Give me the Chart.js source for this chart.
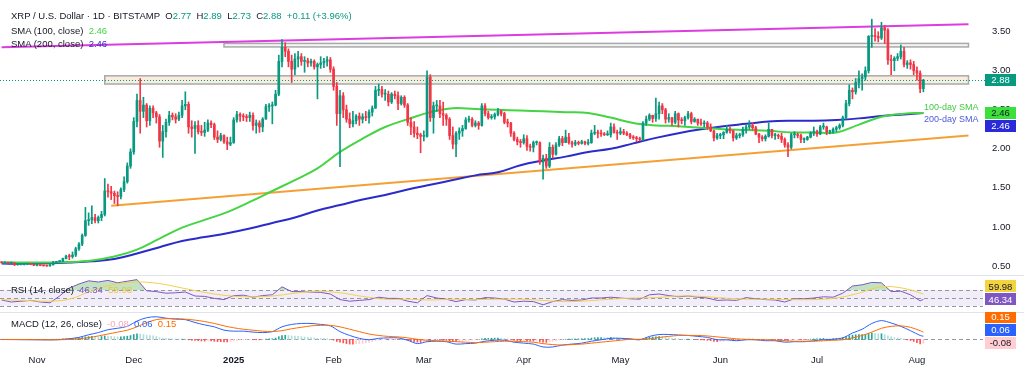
<!DOCTYPE html>
<html>
<head>
<meta charset="utf-8">
<script src="https://cdn.jsdelivr.net/npm/chart.js@4.4.1/dist/chart.umd.min.js"></script>
<style>
  body { margin: 0; background: #fff; }
  #wrap { position: relative; width: 1024px; height: 376px; overflow: hidden; background: #fff;
          font-family: 'Liberation Sans', Arial, sans-serif; color: #131722; }
  canvas { position: absolute; left: 0; }
  .sep { position: absolute; left: 0; width: 1024px; height: 1px; background: #e0e3eb; }
  .leg { position: absolute; left: 11px; font-size: 9.5px; line-height: 12px; white-space: nowrap; }
  .note { position: absolute; font-size: 9px; line-height: 11px; white-space: nowrap; }
</style>
</head>
<body>
<div id="wrap">
  <canvas id="price" width="1024" height="274" style="top:0"></canvas>
  <div class="sep" style="top:275px"></div>
  <canvas id="rsi" width="1024" height="36" style="top:276px"></canvas>
  <div class="sep" style="top:312px"></div>
  <canvas id="macd" width="1024" height="64" style="top:312px"></canvas>

  <div class="leg" id="leg1" style="top:10px"></div>
  <div class="leg" id="leg2" style="top:25px"></div>
  <div class="leg" id="leg3" style="top:38px"></div>
  <div class="leg" id="legRsi" style="top:284px"></div>
  <div class="leg" id="legMacd" style="top:318px"></div>
  <div class="note" style="left:924px;top:102px;color:#44c944">100-day SMA</div>
  <div class="note" style="left:924px;top:114px;color:#4b5bd6">200-day SMA</div>
</div>

<script>
// ---- data ----
const firstOpen = 0.549;
const changeAbs = 0.11, changePct = 3.96;
// daily candles, 2024-10-21 .. 2025-08-03
const closes = [
  0.541,0.545,0.538,0.540,0.515,0.517,0.520,0.522,0.523,0.521,0.508,
  0.510,0.505,0.503,0.500,0.515,0.545,0.555,0.560,0.595,0.625,0.620,0.640,0.720,0.780,0.890,1.080,1.090,1.120,1.080,1.120,1.160,1.460,1.450,1.430,1.400,1.390,1.480,1.580,1.780,1.960,
  2.35,2.62,2.48,2.56,2.36,2.52,2.46,2.41,2.10,2.22,2.34,2.43,2.41,2.38,2.43,2.55,2.57,2.28,2.26,2.30,2.22,2.21,2.24,2.33,2.31,2.15,2.12,2.17,2.09,2.06,2.08,
  2.37,2.44,2.42,2.41,2.40,2.43,2.30,2.33,2.28,2.38,2.54,2.55,2.56,2.70,3.12,3.30,3.25,3.12,3.02,3.15,3.18,3.12,3.13,3.10,3.12,3.05,3.08,3.10,3.12,3.14,3.02,
  2.80,2.45,2.68,2.50,2.38,2.32,2.36,2.42,2.38,2.41,2.40,2.47,2.52,2.75,2.76,2.70,2.70,2.60,2.70,2.68,2.58,2.66,2.56,2.34,2.28,2.20,2.18,2.16,
  2.16,2.92,2.40,2.55,2.55,2.45,2.43,2.38,2.17,2.06,2.20,2.23,2.26,2.37,2.38,2.30,2.33,2.30,2.55,2.45,2.40,2.41,2.44,2.48,2.45,2.34,2.33,2.20,2.12,2.09,2.08,
  2.13,2.03,2.02,2.08,2.08,1.83,1.88,1.78,2.02,1.93,2.05,2.13,2.08,2.15,2.08,2.06,2.08,2.07,2.09,2.07,2.08,2.20,2.21,2.20,2.19,2.18,2.18,2.28,2.21,2.20,
  2.22,2.20,2.18,2.15,2.14,2.13,2.12,2.33,2.38,2.43,2.39,2.45,2.55,2.50,2.38,2.40,2.34,2.45,2.37,2.36,2.40,2.45,2.35,2.38,2.33,2.32,2.33,2.28,2.23,2.14,2.17,
  2.18,2.21,2.25,2.23,2.14,2.17,2.18,2.25,2.28,2.30,2.27,2.19,2.15,2.13,2.16,2.25,2.17,2.17,2.16,2.12,2.05,2.02,2.18,2.18,2.17,2.12,2.12,2.15,2.20,2.22,
  2.19,2.28,2.28,2.22,2.22,2.25,2.27,2.30,2.40,2.58,2.75,2.73,2.85,2.90,2.92,3.00,3.44,3.45,3.44,3.42,3.55,3.52,3.14,3.13,3.16,3.18,3.25,3.08,3.10,3.08,3.00,
  2.97,2.77,2.88
];
const highs = [
  0.552,0.547,0.546,0.545,0.542,0.520,0.522,0.525,0.530,0.528,0.524,
  0.515,0.512,0.508,0.510,0.520,0.560,0.560,0.570,0.600,0.640,0.650,0.680,0.740,0.800,0.910,1.250,1.180,1.270,1.160,1.140,1.200,1.620,1.550,1.520,1.460,1.450,1.500,1.640,1.820,2.000,
  2.40,2.70,2.90,2.66,2.58,2.55,2.55,2.48,2.44,2.30,2.38,2.48,2.46,2.45,2.47,2.62,2.73,2.60,2.36,2.35,2.36,2.30,2.34,2.37,2.36,2.33,2.23,2.20,2.18,2.15,2.15,
  2.40,2.48,2.46,2.45,2.44,2.47,2.46,2.37,2.36,2.40,2.57,2.58,2.60,2.75,3.20,3.40,3.36,3.28,3.20,3.22,3.25,3.22,3.18,3.16,3.15,3.14,3.10,3.18,3.16,3.18,3.17,
  3.05,2.85,2.75,2.72,2.56,2.46,2.48,2.44,2.46,2.45,2.48,2.50,2.55,2.80,2.83,2.80,2.76,2.74,2.72,2.74,2.73,2.68,2.68,2.58,2.40,2.35,2.28,2.20,
  2.23,3.00,2.95,2.60,2.62,2.62,2.60,2.45,2.40,2.28,2.22,2.27,2.30,2.40,2.42,2.40,2.36,2.35,2.58,2.58,2.48,2.44,2.46,2.52,2.50,2.47,2.38,2.34,2.22,2.15,2.12,
  2.18,2.17,2.06,2.10,2.10,2.09,1.92,1.93,2.08,2.05,2.08,2.16,2.16,2.24,2.20,2.10,2.11,2.10,2.11,2.10,2.12,2.24,2.30,2.24,2.24,2.21,2.23,2.33,2.32,2.24,
  2.27,2.25,2.22,2.20,2.17,2.16,2.15,2.35,2.42,2.45,2.43,2.65,2.60,2.58,2.52,2.45,2.40,2.48,2.46,2.40,2.42,2.48,2.47,2.40,2.38,2.38,2.36,2.35,2.32,2.24,2.20,
  2.20,2.22,2.30,2.28,2.24,2.20,2.20,2.28,2.30,2.36,2.34,2.29,2.20,2.17,2.18,2.33,2.25,2.20,2.19,2.20,2.14,2.08,2.20,2.22,2.20,2.19,2.14,2.16,2.22,2.28,
  2.24,2.30,2.33,2.29,2.24,2.27,2.29,2.32,2.42,2.62,2.82,2.78,2.90,3.00,2.96,3.05,3.45,3.66,3.54,3.50,3.62,3.58,3.54,3.20,3.18,3.22,3.33,3.30,3.13,3.14,3.12,
  3.05,3.00,2.89
];
const lows = [
  0.538,0.535,0.530,0.535,0.505,0.510,0.512,0.512,0.515,0.515,0.505,
  0.500,0.502,0.497,0.495,0.498,0.510,0.540,0.550,0.555,0.590,0.580,0.600,0.620,0.700,0.760,0.880,1.020,1.040,1.050,1.050,1.080,1.140,1.380,1.350,1.300,1.270,1.360,1.450,1.560,1.750,
  1.93,2.28,2.20,2.40,2.28,2.30,2.40,2.33,2.02,1.89,2.15,2.30,2.37,2.33,2.36,2.40,2.50,2.20,2.15,1.94,2.19,2.17,2.16,2.22,2.27,2.12,2.08,2.10,2.07,1.99,2.04,
  2.07,2.34,2.35,2.36,2.35,2.35,2.24,2.20,2.21,2.22,2.38,2.48,2.32,2.55,2.68,3.05,3.18,3.05,2.85,2.95,3.05,3.07,2.98,3.05,3.06,3.02,2.64,3.03,3.04,3.06,2.98,
  2.75,2.30,1.77,2.40,2.34,2.27,2.28,2.32,2.30,2.33,2.36,2.33,2.42,2.52,2.68,2.66,2.62,2.55,2.58,2.64,2.50,2.56,2.53,2.30,2.18,2.15,2.13,1.95,
  2.10,2.15,2.35,2.20,2.48,2.40,2.30,2.30,2.12,2.00,1.90,2.12,2.16,2.25,2.34,2.28,2.28,2.25,2.29,2.42,2.38,2.38,2.38,2.42,2.42,2.32,2.28,2.16,2.10,2.05,2.02,
  2.06,1.98,1.97,1.96,2.05,1.80,1.61,1.75,1.76,1.88,1.92,2.03,2.04,2.08,2.06,2.02,2.04,2.05,2.06,2.05,2.05,2.07,2.18,2.14,2.16,2.17,2.17,2.15,2.20,2.12,
  2.18,2.18,2.17,2.13,2.12,2.09,2.10,2.10,2.30,2.36,2.34,2.35,2.38,2.45,2.33,2.34,2.30,2.32,2.28,2.32,2.30,2.38,2.32,2.34,2.30,2.30,2.28,2.25,2.22,2.10,2.12,
  2.13,2.13,2.20,2.20,2.10,2.12,2.14,2.16,2.20,2.25,2.24,2.18,2.08,2.10,2.10,2.15,2.14,2.12,2.13,2.08,2.02,1.90,2.00,2.14,2.14,2.08,2.08,2.11,2.14,2.17,
  2.16,2.18,2.25,2.18,2.19,2.20,2.22,2.25,2.28,2.38,2.55,2.64,2.70,2.78,2.75,2.88,2.97,3.30,3.38,3.37,3.40,3.35,3.08,2.95,3.00,3.13,3.15,3.05,3.03,3.02,2.95,
  2.88,2.72,2.73
];

// weekly samples (Mondays from 2024-10-21, plus 2025-08-03)
const sma100 = [0.545,0.545,0.545,0.55,0.57,0.62,0.71,0.85,0.99,1.09,1.19,1.32,1.46,1.60,1.75,1.96,2.13,2.28,2.38,2.47,2.52,2.51,2.50,2.49,2.48,2.47,2.46,2.40,2.33,2.30,2.29,2.27,2.25,2.24,2.23,2.21,2.21,2.21,2.31,2.41,2.45,2.46];
const sma200 = [0.53,0.53,0.535,0.545,0.56,0.59,0.66,0.74,0.82,0.87,0.92,0.98,1.05,1.12,1.21,1.28,1.35,1.41,1.48,1.54,1.60,1.66,1.70,1.79,1.85,1.90,1.96,2.00,2.07,2.14,2.20,2.25,2.29,2.32,2.35,2.36,2.36,2.37,2.39,2.42,2.44,2.46];
const rsiMa = [46,44,42,47,68,84,90,86,75,64,56,53,55,62,67,63,54,47,47,45,47,46,47,47,44,41,43,47,50,51,55,54,50,47,47,46,46,50,62,78,74,59.98];

// samples every 3 days from 2024-10-21, plus 2025-08-03
const rsi = [45,40,42,44,
  40,38,55,75,85,93,90,94,88,92,
  96,68,66,62,63,65,55,54,49,46,
  56,57,52,56,58,78,66,66,65,64,60,
  46,42,44,46,52,49,49,42,38,
  56,50,47,41,46,45,51,50,47,40,
  42,41,33,41,46,44,45,50,50,52,
  50,48,47,58,60,56,53,55,52,50,44,
  45,44,51,48,46,45,40,48,48,50,
  53,52,62,80,83,89,88,66,67,58,
  43,46.34];
const macdLine = [-0.005,-0.006,-0.008,-0.009,
  -0.011,-0.012,-0.006,0.012,0.040,0.095,0.14,0.20,0.23,0.27,
  0.38,0.45,0.47,0.44,0.42,0.41,0.35,0.30,0.26,0.19,
  0.17,0.17,0.15,0.14,0.16,0.26,0.31,0.33,0.33,0.31,0.28,
  0.16,0.08,0.02,-0.01,0.02,0.03,0.03,-0.02,-0.09,
  -0.05,-0.04,-0.05,-0.10,-0.09,-0.08,-0.04,-0.02,-0.02,-0.06,
  -0.08,-0.10,-0.16,-0.16,-0.12,-0.10,-0.08,-0.04,-0.01,0.02,
  0.02,0.01,-0.01,0.06,0.10,0.10,0.09,0.08,0.06,0.04,-0.01,
  -0.01,-0.03,-0.01,-0.01,-0.03,-0.03,-0.06,-0.05,-0.05,-0.03,
  -0.01,0.00,0.03,0.13,0.21,0.33,0.39,0.34,0.27,0.18,
  0.08,0.064];
const signalLine = [-0.003,-0.004,-0.005,-0.007,
  -0.008,-0.010,-0.009,-0.003,0.010,0.035,0.07,0.11,0.15,0.19,
  0.26,0.35,0.41,0.43,0.43,0.42,0.40,0.37,0.33,0.28,
  0.24,0.21,0.19,0.17,0.16,0.18,0.22,0.25,0.28,0.29,0.29,
  0.26,0.21,0.16,0.11,0.08,0.06,0.05,0.03,0.00,
  -0.02,-0.03,-0.04,-0.05,-0.06,-0.07,-0.06,-0.05,-0.04,-0.04,
  -0.05,-0.06,-0.09,-0.11,-0.12,-0.11,-0.10,-0.08,-0.06,-0.04,
  -0.02,0.00,0.00,0.01,0.04,0.06,0.08,0.08,0.08,0.07,0.05,
  0.03,0.01,0.00,-0.01,-0.01,-0.02,-0.03,-0.04,-0.04,-0.04,
  -0.03,-0.02,-0.01,0.03,0.08,0.15,0.23,0.27,0.28,0.25,
  0.18,0.148];
// daily histogram
const macdHist = [
  -0.002,-0.002,-0.002,-0.002,-0.003,-0.003,-0.003,-0.002,-0.002,-0.002,-0.003,
  -0.003,-0.003,-0.003,-0.003,-0.002,0.001,0.003,0.004,0.008,0.012,0.014,0.016,0.022,0.028,0.038,0.05,0.056,0.06,0.056,0.052,0.058,0.07,0.068,0.062,0.055,0.05,0.05,0.055,0.065,0.078,
  0.1,0.115,0.11,0.1,0.085,0.08,0.07,0.058,0.035,0.025,0.02,0.018,0.012,0.006,0.004,0.005,0.004,-0.012,-0.02,-0.025,-0.03,-0.035,-0.037,-0.035,-0.035,-0.042,-0.048,-0.05,-0.052,-0.055,-0.052,
  -0.035,-0.022,-0.015,-0.01,-0.008,-0.005,-0.01,-0.01,-0.012,-0.006,0.004,0.008,0.012,0.025,0.055,0.08,0.085,0.08,0.07,0.068,0.062,0.055,0.048,0.04,0.034,0.026,0.022,0.018,0.014,0.012,0.002,
  -0.018,-0.045,-0.06,-0.075,-0.09,-0.1,-0.1,-0.095,-0.09,-0.085,-0.075,-0.065,-0.05,-0.03,-0.018,-0.01,-0.008,-0.01,-0.006,-0.004,-0.006,-0.003,-0.006,-0.022,-0.04,-0.055,-0.06,-0.065,
  -0.06,-0.02,-0.03,-0.02,-0.015,-0.015,-0.018,-0.02,-0.032,-0.045,-0.045,-0.04,-0.035,-0.025,-0.018,-0.015,-0.012,-0.01,0.012,0.018,0.02,0.022,0.024,0.026,0.024,0.015,0.008,-0.005,-0.018,-0.025,-0.03,
  -0.028,-0.032,-0.035,-0.035,-0.034,-0.05,-0.06,-0.065,-0.045,-0.042,-0.03,-0.015,-0.01,0.002,0.005,0.006,0.008,0.01,0.012,0.013,0.014,0.025,0.032,0.035,0.036,0.035,0.034,0.04,0.036,0.032,
  0.028,0.022,0.015,0.008,0.002,-0.004,-0.008,0.01,0.03,0.045,0.048,0.05,0.055,0.05,0.04,0.032,0.022,0.02,0.012,0.006,0.004,0.006,0.0,-0.002,-0.008,-0.012,-0.015,-0.02,-0.028,-0.045,-0.048,
  -0.045,-0.04,-0.03,-0.025,-0.03,-0.028,-0.022,-0.01,0.0,0.006,0.006,0.0,-0.01,-0.012,-0.01,0.0,-0.005,-0.007,-0.008,-0.012,-0.02,-0.025,-0.012,-0.005,-0.002,-0.004,-0.004,-0.002,0.004,0.008,
  0.008,0.014,0.018,0.016,0.015,0.016,0.018,0.022,0.035,0.055,0.075,0.085,0.095,0.1,0.1,0.1,0.12,0.13,0.125,0.115,0.115,0.1,0.07,0.05,0.035,0.025,0.02,0.002,-0.012,-0.025,-0.045,
  -0.07,-0.095,-0.084
];

// drawn levels
const zoneFrom = ['2024-12-29', '2024-11-22'];
const zoneTo = ['2025-08-17', '2025-08-17'];
const zoneHigh = [3.35, 2.935];
const zoneLow = [3.305, 2.83];
const topLineDates = ['2024-10-21', '2025-08-17'];
const topLineValues = [3.30, 3.595];
const baseLineDates = ['2024-11-24', '2025-08-17'];
const baseLineValues = [1.27, 2.17];

const priceTicks = [0.5, 1.0, 1.5, 2.0, 2.5, 3.0, 3.5];
const tickDates = ['2024-11-01','2024-12-01','2025-01-01','2025-02-01','2025-03-01','2025-04-01','2025-05-01','2025-06-01','2025-07-01','2025-08-01'];
const tickNames = ['Nov','Dec','2025','Feb','Mar','Apr','May','Jun','Jul','Aug'];

// ---- axis categories ----
const days = [];
for (let i = 0; i < 305; i++) {
  days.push(new Date(Date.UTC(2024, 9, 21) + i * 86400000).toISOString().slice(0, 10));
}
const lastDay = days[closes.length - 1];
const weekDates = days.filter((d, i) => i % 7 === 0 && i < closes.length - 1).concat([lastDay]);
const triDates = days.filter((d, i) => i % 3 === 0 && i < closes.length - 1).concat([lastDay]);

const opens = closes.map((c, i) => i === 0 ? firstOpen : closes[i - 1]);
const UP = '#089981', DOWN = '#f23645';
const candleColors = closes.map((c, i) => c >= opens[i] ? UP : DOWN);
const SMA100_C = '#44d444', SMA200_C = '#2b2bcc';
const FONT = "'Liberation Sans', Arial, sans-serif";

Chart.defaults.font.family = FONT;
Chart.defaults.font.size = 9.5;
Chart.defaults.color = '#131722';

const pts = (dates, vals) => vals.map((v, i) => ({ x: dates[i], y: v }));
const AXIS_W = 41;

function drawAxisBoxes(chart, items, dir) {
  const { ctx, scales: { y } } = chart;
  const h = 12, gap = 1;
  const placed = items.map(it => Object.assign({}, it, { cy: y.getPixelForValue(it.value) }));
  if (dir === 'down') {
    for (let i = 1; i < placed.length; i++) placed[i].cy = Math.max(placed[i].cy, placed[i - 1].cy + h + gap);
  } else {
    for (let i = placed.length - 2; i >= 0; i--) placed[i].cy = Math.min(placed[i].cy, placed[i + 1].cy - h - gap);
  }
  ctx.save();
  ctx.font = '9.5px ' + FONT;
  ctx.textAlign = 'center';
  ctx.textBaseline = 'middle';
  placed.forEach(p => {
    ctx.fillStyle = p.bg;
    ctx.fillRect(985, Math.round(p.cy - h / 2), 31, h);
    ctx.fillStyle = p.fg;
    ctx.fillText(p.text, 1000.5, p.cy + 0.5);
  });
  ctx.restore();
}

const pricePlugin = {
  id: 'pricePane',
  beforeDatasetsDraw(chart) {
    const { ctx, scales: { x, y } } = chart;
    const fills = ['rgba(236,236,236,0.55)', 'rgba(244,226,204,0.6)'];
    ctx.save();
    for (let i = 0; i < zoneHigh.length; i++) {
      const x1 = x.getPixelForValue(days.indexOf(zoneFrom[i]));
      const x2 = x.getPixelForValue(days.indexOf(zoneTo[i]));
      const y1 = y.getPixelForValue(zoneHigh[i]);
      const y2 = y.getPixelForValue(zoneLow[i]);
      ctx.fillStyle = fills[i];
      ctx.fillRect(x1, y1, x2 - x1, y2 - y1);
      ctx.strokeStyle = '#a9a9a9';
      ctx.lineWidth = 1.5;
      ctx.strokeRect(x1, y1, x2 - x1, y2 - y1);
    }
    ctx.restore();
  },
  afterDatasetsDraw(chart) {
    const { ctx, chartArea, scales: { y } } = chart;
    const py = Math.round(y.getPixelForValue(closes[closes.length - 1])) + 0.5;
    ctx.save();
    ctx.setLineDash([1, 2]);
    ctx.strokeStyle = UP;
    ctx.lineWidth = 1;
    ctx.beginPath();
    ctx.moveTo(chartArea.left, py);
    ctx.lineTo(985, py);
    ctx.stroke();
    ctx.restore();
  },
  afterDraw(chart) {
    const { ctx, scales: { y } } = chart;
    ctx.save();
    ctx.font = '9.5px ' + FONT;
    ctx.fillStyle = '#131722';
    ctx.textAlign = 'left';
    ctx.textBaseline = 'middle';
    priceTicks.forEach(v => ctx.fillText(v.toFixed(2), 992, y.getPixelForValue(v)));
    ctx.restore();
    const last = closes.length - 1;
    drawAxisBoxes(chart, [
      { value: closes[last], text: closes[last].toFixed(2), bg: UP, fg: '#fff' },
      { value: sma100[sma100.length - 1], text: sma100[sma100.length - 1].toFixed(2), bg: '#3be03b', fg: '#131722' },
      { value: sma200[sma200.length - 1], text: sma200[sma200.length - 1].toFixed(2), bg: '#2a2ad8', fg: '#fff' }
    ], 'down');
  }
};

new Chart(document.getElementById('price'), {
  type: 'bar',
  data: {
    labels: days,
    datasets: [
      { type: 'line', data: pts(topLineDates, topLineValues), borderColor: '#dc3ce0', borderWidth: 2, pointRadius: 0, order: 5 },
      { type: 'line', data: pts(baseLineDates, baseLineValues), borderColor: '#f5a035', borderWidth: 2, pointRadius: 0, order: 5 },
      { type: 'line', data: pts(weekDates, sma200), borderColor: SMA200_C, borderWidth: 2, pointRadius: 0, tension: 0.4, order: 4 },
      { type: 'line', data: pts(weekDates, sma100), borderColor: SMA100_C, borderWidth: 2, pointRadius: 0, tension: 0.4, order: 3 },
      { data: lows.map((l, i) => [l, highs[i]]), backgroundColor: candleColors, barThickness: 1, grouped: false, order: 2 },
      { data: opens.map((o, i) => [o, closes[i]]), backgroundColor: candleColors, barThickness: 2, minBarLength: 1, grouped: false, order: 1 }
    ]
  },
  options: {
    responsive: false, animation: false, devicePixelRatio: 1,
    layout: { padding: { right: AXIS_W } },
    plugins: { legend: { display: false }, tooltip: { enabled: false } },
    scales: {
      x: { display: false, offset: true },
      y: { display: false, min: 0.397, max: 3.906 }
    }
  },
  plugins: [pricePlugin]
});

const rsiPlugin = {
  id: 'rsiPane',
  beforeDatasetsDraw(chart) {
    const { ctx, chartArea, scales: { y } } = chart;
    const y70 = y.getPixelForValue(70), y30 = y.getPixelForValue(30), y50 = y.getPixelForValue(50);
    ctx.save();
    ctx.fillStyle = 'rgba(126,87,194,0.1)';
    ctx.fillRect(chartArea.left, y70, chartArea.right - chartArea.left, y30 - y70);
    ctx.setLineDash([4, 3]);
    ctx.strokeStyle = '#9598a1';
    ctx.lineWidth = 1;
    [y70, y50, y30].forEach(py => {
      ctx.beginPath();
      ctx.moveTo(chartArea.left, Math.round(py) + 0.5);
      ctx.lineTo(chartArea.right, Math.round(py) + 0.5);
      ctx.stroke();
    });
    ctx.restore();
  },
  afterDraw(chart) {
    drawAxisBoxes(chart, [
      { value: rsiMa[rsiMa.length - 1], text: rsiMa[rsiMa.length - 1].toFixed(2), bg: '#f5d33f', fg: '#131722' },
      { value: rsi[rsi.length - 1], text: rsi[rsi.length - 1].toFixed(2), bg: '#7e57c2', fg: '#fff' }
    ], 'up');
  }
};

new Chart(document.getElementById('rsi'), {
  type: 'line',
  data: {
    labels: days,
    datasets: [
      { data: pts(weekDates, rsiMa), borderColor: '#f2d04a', borderWidth: 1, pointRadius: 0, tension: 0.4 },
      { data: pts(triDates, rsi), borderColor: '#7e57c2', borderWidth: 1, pointRadius: 0,
        fill: { target: { value: 70 }, above: 'rgba(76,175,80,0.35)', below: 'rgba(0,0,0,0)' } }
    ]
  },
  options: {
    responsive: false, animation: false, devicePixelRatio: 1,
    layout: { padding: { right: AXIS_W } },
    plugins: { legend: { display: false }, tooltip: { enabled: false } },
    scales: {
      x: { display: false, offset: true },
      y: { display: false, min: 15, max: 105 }
    }
  },
  plugins: [rsiPlugin]
});

const histColors = macdHist.map((v, i) => {
  const prev = i > 0 ? macdHist[i - 1] : v;
  if (v >= 0) return v >= prev ? '#26a69a' : '#b2dfdb';
  return v <= prev ? '#ff5252' : '#ffcdd2';
});

const macdPlugin = {
  id: 'macdPane',
  beforeDatasetsDraw(chart) {
    const { ctx, chartArea, scales: { y } } = chart;
    const py = Math.round(y.getPixelForValue(0)) + 0.5;
    ctx.save();
    ctx.setLineDash([4, 3]);
    ctx.strokeStyle = '#9598a1';
    ctx.lineWidth = 1;
    ctx.beginPath();
    ctx.moveTo(chartArea.left, py);
    ctx.lineTo(chartArea.right, py);
    ctx.stroke();
    ctx.restore();
  },
  afterDraw(chart) {
    const n = macdLine.length - 1;
    drawAxisBoxes(chart, [
      { value: signalLine[n], text: signalLine[n].toFixed(2), bg: '#ff6d00', fg: '#fff' },
      { value: macdLine[n], text: macdLine[n].toFixed(2), bg: '#2962ff', fg: '#fff' },
      { value: macdHist[macdHist.length - 1], text: macdHist[macdHist.length - 1].toFixed(2), bg: histColors[histColors.length - 1], fg: '#131722' }
    ], 'up');
  }
};

new Chart(document.getElementById('macd'), {
  type: 'bar',
  data: {
    labels: days,
    datasets: [
      { type: 'line', data: pts(triDates, signalLine), borderColor: '#ff6d00', borderWidth: 1, pointRadius: 0, tension: 0.3, order: 1 },
      { type: 'line', data: pts(triDates, macdLine), borderColor: '#2962ff', borderWidth: 1, pointRadius: 0, tension: 0.3, order: 2 },
      { data: macdHist, backgroundColor: histColors, barThickness: 1, order: 3 }
    ]
  },
  options: {
    responsive: false, animation: false, devicePixelRatio: 1,
    layout: { padding: { right: AXIS_W } },
    plugins: { legend: { display: false }, tooltip: { enabled: false } },
    scales: {
      x: {
        offset: true,
        grid: { display: false, drawTicks: false }, border: { display: false },
        afterFit: s => { s.height = 26; },
        ticks: {
          autoSkip: false, maxRotation: 0, padding: 5,
          font: c => ({ family: FONT, size: 9.5, weight: c.tick && c.tick.label === '2025' ? 'bold' : 'normal' }),
          callback: v => { const k = tickDates.indexOf(days[v]); return k >= 0 ? tickNames[k] : null; }
        }
      },
      y: { display: false, min: -0.223, max: 0.569 }
    }
  },
  plugins: [macdPlugin]
});

// ---- legends ----
const n = closes.length - 1;
const tv = (t, c) => '<span style="color:' + c + '">' + t + '</span>';
document.getElementById('leg1').innerHTML =
  'XRP / U.S. Dollar · 1D · BITSTAMP&nbsp;&nbsp;' +
  'O' + tv(opens[n].toFixed(2), UP) + '&nbsp;&nbsp;H' + tv(highs[n].toFixed(2), UP) +
  '&nbsp;&nbsp;L' + tv(lows[n].toFixed(2), UP) + '&nbsp;&nbsp;C' + tv(closes[n].toFixed(2), UP) + '&nbsp;&nbsp;' +
  tv('+' + changeAbs.toFixed(2) + ' (+' + changePct.toFixed(2) + '%)', UP);
document.getElementById('leg2').innerHTML = 'SMA (100, close)&nbsp;&nbsp;' + tv(sma100[sma100.length - 1].toFixed(2), SMA100_C);
document.getElementById('leg3').innerHTML = 'SMA (200, close)&nbsp;&nbsp;' + tv(sma200[sma200.length - 1].toFixed(2), SMA200_C);
document.getElementById('legRsi').innerHTML = 'RSI (14, close)&nbsp;&nbsp;' + tv(rsi[rsi.length - 1].toFixed(2), '#7e57c2') +
  '&nbsp;&nbsp;' + tv(rsiMa[rsiMa.length - 1].toFixed(2), '#e8c53a');
document.getElementById('legMacd').innerHTML = 'MACD (12, 26, close)&nbsp;&nbsp;' +
  tv(macdHist[macdHist.length - 1].toFixed(2), '#f7a8b2') + '&nbsp;&nbsp;' +
  tv(macdLine[macdLine.length - 1].toFixed(2), '#2962ff') + '&nbsp;&nbsp;' +
  tv(signalLine[signalLine.length - 1].toFixed(2), '#ff6d00');
</script>
</body>
</html>
